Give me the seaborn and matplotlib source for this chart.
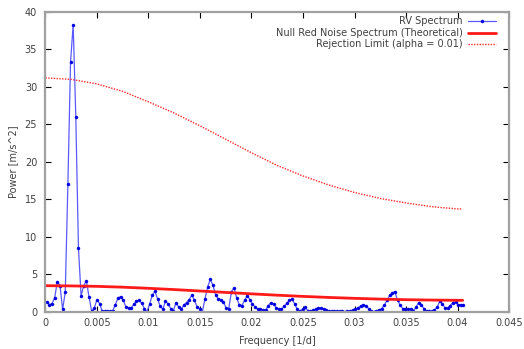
import numpy as np
import pandas as pd
import matplotlib
matplotlib.use("Agg")
import matplotlib.pyplot as plt
import seaborn as sns

# Periodogram of the radial-velocity series (evenly spaced frequency grid)
freq_start = 0.000128   # 1/d
freq_step = 0.000256    # 1/d
rv_power = [
    1.33, 0.93, 1.07, 1.87, 4.0, 3.47, 0.27, 2.6, 17.0, 33.3,
    38.3, 26.0, 8.5, 2.1, 3.47, 4.1, 1.96, 0.05, 0.44, 1.6,
    1.07, 0.05, 0.1, 0.1, 0.1, 0.1, 0.93, 1.8, 2.0, 1.5,
    0.6, 0.5, 0.5, 0.95, 1.4, 1.5, 1.1, 0.4, 0.0, 1.0,
    2.2, 2.7, 1.7, 0.7, 0.3, 1.4, 1.0, 0.4, 0.1, 1.2,
    0.6, 0.3, 0.9, 1.2, 1.6, 2.2, 1.5, 0.6, 0.4, 0.0,
    1.7, 3.3, 4.3, 3.5, 2.25, 1.7, 1.6, 1.3, 0.45, 0.4,
    2.6, 3.2, 1.8, 0.9, 0.8, 1.5, 2.1, 1.6, 1.0, 0.6,
    0.35, 0.3, 0.2, 0.2, 0.8, 1.2, 1.0, 0.5, 0.3, 0.3,
    0.7, 1.1, 1.5, 1.7, 1.0, 0.3, 0.05, 0.3, 0.6, 0.1,
    0.05, 0.2, 0.35, 0.45, 0.45, 0.3, 0.15, 0.1, 0.1, 0.1,
    0.1, 0.05, 0.05, 0.0, 0.05, 0.1, 0.2, 0.3, 0.5, 0.75,
    0.9, 0.8, 0.4, 0.05, 0.0, 0.1, 0.2, 0.4, 0.85, 1.5,
    2.15, 2.5, 2.65, 1.5, 0.85, 0.4, 0.35, 0.4, 0.3, 0.1,
    0.55, 1.2, 0.9, 0.4, 0.05, 0.05, 0.05, 0.2, 0.55, 1.35,
    1.05, 0.5, 0.45, 0.8, 1.2, 1.3, 0.9, 0.9, 0.9,
]

# Theoretical AR(1) red-noise spectrum and its 99% rejection limit
model_freq = [0.0, 0.0025, 0.005, 0.0075, 0.01, 0.0125, 0.015, 0.0175, 0.02,
              0.0225, 0.025, 0.0275, 0.03, 0.0325, 0.035, 0.0375, 0.04, 0.0405]
red_noise = [3.45, 3.42, 3.36, 3.25, 3.1, 2.93, 2.74, 2.55, 2.36,
             2.18, 2.02, 1.88, 1.76, 1.66, 1.58, 1.53, 1.5, 1.5]
rejection_limit = [31.2, 31.0, 30.4, 29.4, 28.0, 26.5, 24.8, 23.0, 21.2,
                   19.5, 18.1, 16.9, 15.9, 15.1, 14.5, 14.0, 13.7, 13.7]

x_ticks = [0, 0.005, 0.01, 0.015, 0.02, 0.025, 0.03, 0.035, 0.04, 0.045]
x_tick_labels = ["0", "0.005", "0.01", "0.015", "0.02", "0.025", "0.03",
                 "0.035", "0.04", "0.045"]
y_ticks = [0, 5, 10, 15, 20, 25, 30, 35, 40]

sns.set_theme(style="white")
plt.rcParams["font.family"] = ["DejaVu Sans"]

freq = freq_start + freq_step * np.arange(len(rv_power))
spec = pd.DataFrame({"freq": freq, "power": rv_power})
model = pd.DataFrame({"freq": model_freq, "red": red_noise, "limit": rejection_limit})

fig = plt.figure(figsize=(5.24, 3.49), dpi=100)
ax = fig.add_axes([0.0868, 0.1074, 0.8846, 0.8582])

sns.lineplot(data=spec, x="freq", y="power", ax=ax, color="#5a5aff", lw=0.9,
             marker="o", markersize=2.2, markerfacecolor="#0000e0",
             markeredgecolor="#0000e0", markeredgewidth=0.3,
             label="RV Spectrum")
sns.lineplot(data=model, x="freq", y="red", ax=ax, color="#ff1a1a", lw=2.0,
             label="Null Red Noise Spectrum (Theoretical)")
sns.lineplot(data=model, x="freq", y="limit", ax=ax, color="#ff2a2a", lw=1.0,
             linestyle=(0, (1, 1)), label="Rejection Limit (alpha = 0.01)")

ax.set_xlim(0, 0.045)
ax.set_ylim(0, 40)
ax.set_xticks(x_ticks)
ax.set_xticklabels(x_tick_labels)
ax.set_yticks(y_ticks)
ax.set_yticklabels([str(v) for v in y_ticks])

text_color = "#404040"
ax.tick_params(axis="both", which="major", direction="in", length=4,
               width=0.8, color="black", labelsize=7, labelcolor=text_color,
               top=True, right=True, bottom=True, left=True)
ax.tick_params(axis="x", pad=5)
ax.tick_params(axis="y", pad=6)
for side in ax.spines.values():
    side.set_color("#a0a0a0")
    side.set_linewidth(1.6)

ax.set_xlabel("Frequency [1/d]", fontsize=7, color=text_color, labelpad=5.5)
ax.set_ylabel("Power [m/s^2]", fontsize=7, color=text_color, labelpad=5)

ax.legend(loc="upper right", bbox_to_anchor=(0.972, 0.985), frameon=False,
          markerfirst=False, fontsize=7, handlelength=2.9, handletextpad=0.5,
          labelspacing=0.15, borderpad=0, borderaxespad=0,
          labelcolor=text_color)

fig.savefig("out.png", dpi=100)
